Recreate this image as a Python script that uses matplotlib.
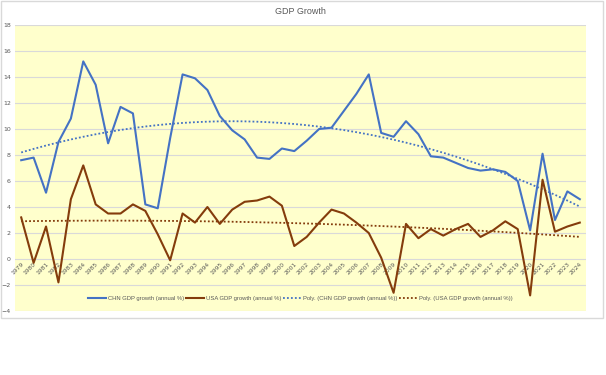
import numpy as np
import matplotlib
matplotlib.use("Agg")
import matplotlib.pyplot as plt
from matplotlib.patches import Rectangle

years = list(range(1979, 2025))
chn_growth = [7.6, 7.8, 5.1, 9.0, 10.8, 15.2, 13.4, 8.9, 11.7, 11.2,
              4.2, 3.9, 9.3, 14.2, 13.9, 13.0, 11.0, 9.9, 9.2, 7.8,
              7.7, 8.5, 8.3, 9.1, 10.0, 10.1, 11.4, 12.7, 14.2, 9.7,
              9.4, 10.6, 9.6, 7.9, 7.8, 7.4, 7.0, 6.8, 6.9, 6.7,
              6.0, 2.2, 8.1, 3.0, 5.2, 4.6]
usa_growth = [3.2, -0.3, 2.5, -1.8, 4.6, 7.2, 4.2, 3.5, 3.5, 4.2,
              3.7, 1.9, -0.1, 3.5, 2.8, 4.0, 2.7, 3.8, 4.4, 4.5,
              4.8, 4.1, 1.0, 1.7, 2.8, 3.8, 3.5, 2.8, 2.0, 0.1,
              -2.6, 2.7, 1.6, 2.3, 1.8, 2.3, 2.7, 1.7, 2.2, 2.9,
              2.3, -2.8, 6.1, 2.1, 2.5, 2.8]
series_names = ["CHN GDP growth (annual %)", "USA GDP growth (annual %)"]
title = "GDP Growth"

W, H = 606, 375
fig = plt.figure(figsize=(W / 100, H / 100), dpi=100)
fig.patch.set_facecolor("white")

# outer chart frame
fig.patches.append(Rectangle((1 / W, 1 - 318 / H), 602 / W, 317 / H,
                             transform=fig.transFigure, fill=False,
                             edgecolor="#D9D9D9", linewidth=1.0))

ax = fig.add_axes([15 / W, 1 - 311 / H, 571 / W, 286 / H])
ax.set_facecolor("#FFFFCC")

x = np.arange(len(years))
c_chn = "#4472C4"
c_usa = "#843C0C"

ax.plot(x, chn_growth, color=c_chn, lw=1.5, label=series_names[0], zorder=3)
ax.plot(x, usa_growth, color=c_usa, lw=1.5, label=series_names[1], zorder=3)

# polynomial (order 2) trendlines, as in Excel
for vals, col, name in [(chn_growth, c_chn, series_names[0]),
                        (usa_growth, c_usa, series_names[1])]:
    xf = np.arange(1, len(vals) + 1)
    p = np.polyfit(xf, vals, 2)
    ax.plot(x, np.polyval(p, xf), color=col, lw=1.3, ls=(0, (1, 1.2)),
            label=f"Poly. ({name})", zorder=2)

ax.set_xlim(-0.5, len(years) - 0.5)
ax.set_ylim(-4, 18)
ax.set_yticks(np.arange(-4, 19, 2))
ax.grid(axis="y", color="#D9D9D9", lw=0.8, zorder=0)
ax.set_axisbelow(True)
for s in ax.spines.values():
    s.set_visible(False)
ax.spines["bottom"].set_position(("data", 0))
ax.set_xticks(x)
ax.set_xticklabels([str(y) for y in years], rotation=45, ha="right",
                   va="top", rotation_mode="anchor", fontsize=4.3,
                   color="#595959")
ax.tick_params(axis="x", length=0, pad=2)
ax.tick_params(axis="y", length=0, labelsize=4.5, labelcolor="#595959", pad=3)

fig.text(300 / W, 1 - 12 / H, title, ha="center", va="center",
         fontsize=6.5, color="#595959", family=["Liberation Sans", "DejaVu Sans"])

leg = ax.legend(loc="center", bbox_to_anchor=(0.5, 0.045), ncol=4,
                frameon=False, handlelength=3.1, columnspacing=0.25,
                handletextpad=0.35,
                prop={"family": ["Liberation Sans", "DejaVu Sans"], "size": 4.2})
for t in leg.get_texts():
    t.set_color("#595959")

fig.savefig("out.png", dpi=100)
